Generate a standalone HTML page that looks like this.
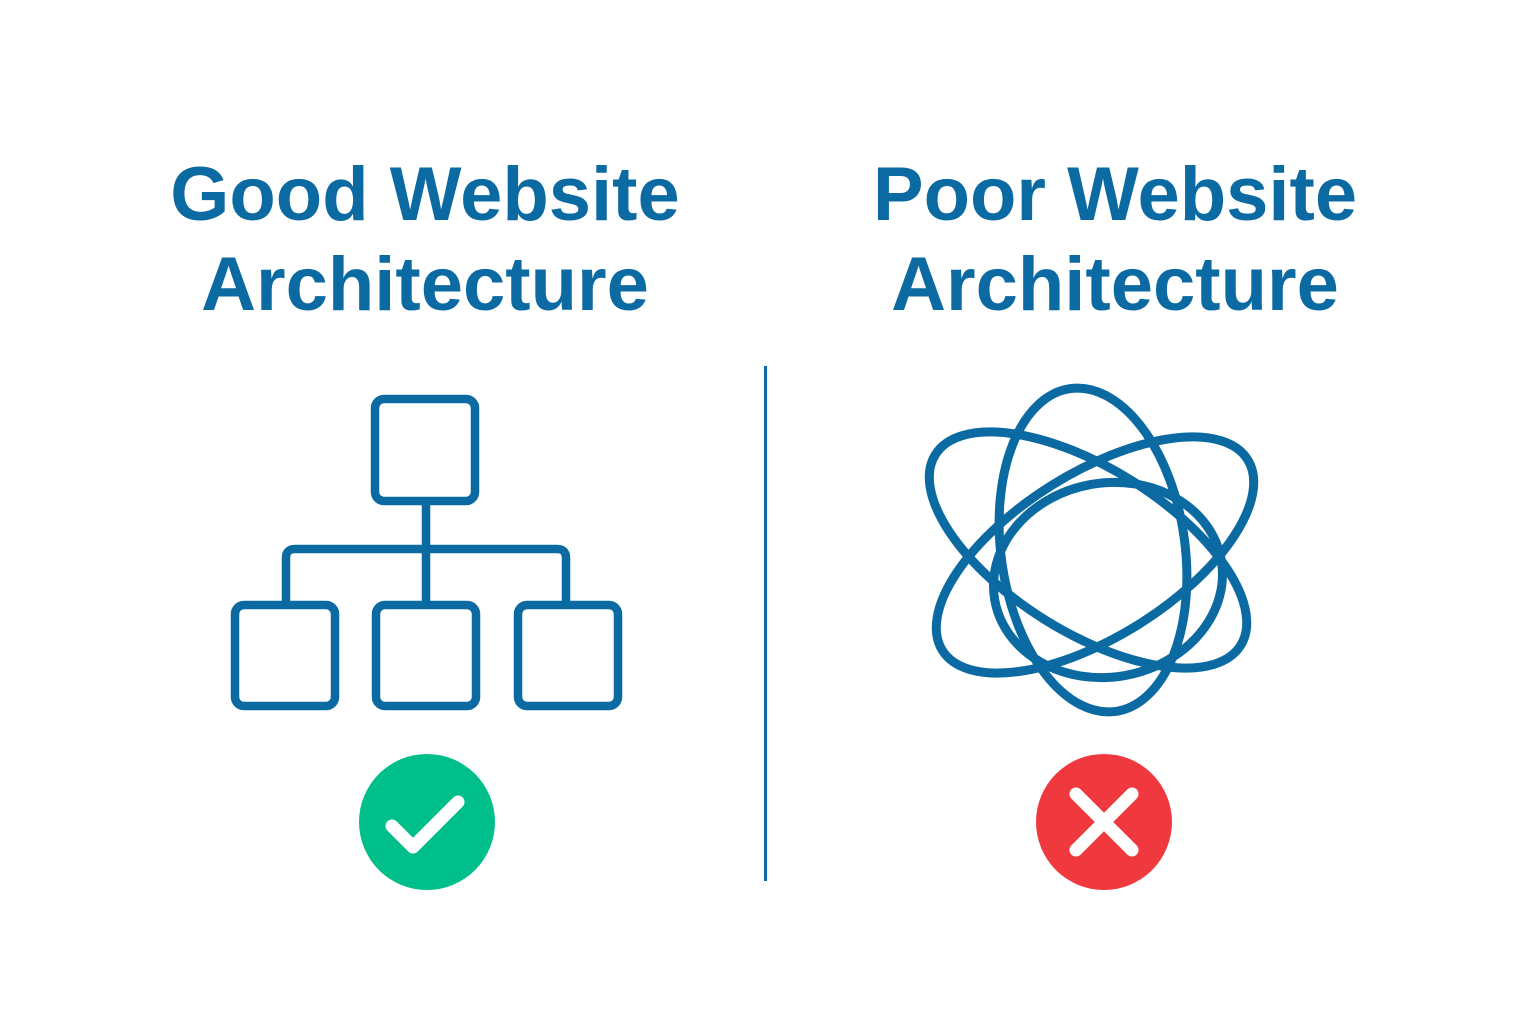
<!DOCTYPE html>
<html><head><meta charset="utf-8"><style>
html,body{margin:0;padding:0;background:#fff;}
body{width:1536px;height:1024px;position:relative;overflow:hidden;}
.t{position:absolute;width:700px;text-align:center;font-family:"Liberation Sans",sans-serif;font-weight:bold;color:#0b6aa2;font-size:76px;line-height:90px;}
</style></head><body>
<div class="t" style="left:75px;top:150px;">Good Website<br>Architecture</div>
<div class="t" style="left:765px;top:150px;">Poor Website<br>Architecture</div>
<svg width="1536" height="1024" style="position:absolute;left:0;top:0" xmlns="http://www.w3.org/2000/svg">
<g fill="none" stroke="#0b6aa2" stroke-width="8.5" stroke-linejoin="round">
<rect x="375" y="399" width="100" height="102" rx="9"/>
<line x1="426" y1="501" x2="426" y2="603"/>
<path d="M286 603 V558 Q286 549 295 549 H557 Q566 549 566 558 V603"/>
<rect x="235" y="605" width="100" height="101" rx="9"/>
<rect x="376" y="605" width="100" height="101" rx="9"/>
<rect x="518" y="605" width="100" height="101" rx="9"/>
</g>
<rect x="764" y="366" width="3" height="515" fill="#0b6aa2"/>
<g fill="none" stroke="#0b6aa2" stroke-width="9">
<ellipse cx="1093" cy="550" rx="92" ry="163" transform="rotate(-8 1093 550)"/>
<ellipse cx="1088" cy="550" rx="180" ry="82" transform="rotate(32 1088 550)"/>
<ellipse cx="1095" cy="555" rx="180" ry="82" transform="rotate(-32 1095 555)"/>
<ellipse cx="1108" cy="580" rx="115" ry="97" transform="rotate(-10 1108 580)"/>
</g>
<circle cx="427" cy="822" r="68" fill="#00bf8a"/>
<path d="M392 826 L413 847 L458 802" fill="none" stroke="#fff" stroke-width="13" stroke-linecap="round" stroke-linejoin="round"/>
<circle cx="1104" cy="822" r="68" fill="#f0393e"/>
<path d="M1076 794 L1132 850 M1132 794 L1076 850" stroke="#fff" stroke-width="13" stroke-linecap="round"/>
</svg>
</body></html>
